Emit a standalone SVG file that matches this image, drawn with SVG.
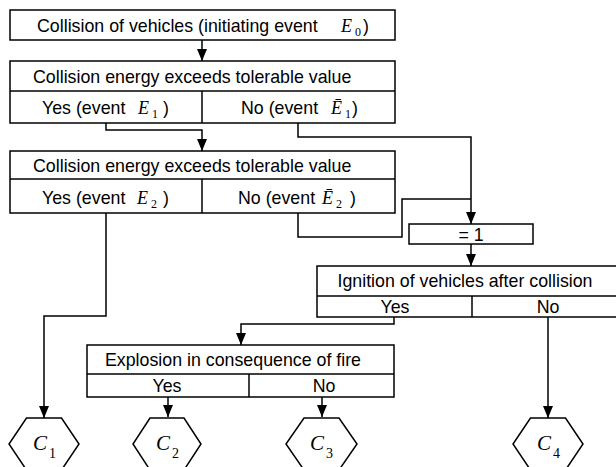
<svg xmlns="http://www.w3.org/2000/svg" width="616" height="467" viewBox="0 0 616 467">
<defs>
<style>
.box{fill:#fff;stroke:#000;stroke-width:1.5}
.ln{fill:none;stroke:#000;stroke-width:1.5}
.t{font-family:"Liberation Sans",Arial,sans-serif;font-size:17.8px;fill:#000}
.m{text-anchor:middle}
.e{font-family:"Liberation Serif","Times New Roman",serif;font-style:italic;font-size:18px;fill:#000}
.s{font-family:"Liberation Serif","Times New Roman",serif;font-size:12px;fill:#000}
.c{font-family:"Liberation Serif","Times New Roman",serif;font-style:italic;font-size:21px;fill:#000}
.cs{font-family:"Liberation Serif","Times New Roman",serif;font-size:14px;fill:#000}
.w{fill:none;stroke:#000;stroke-width:1.5}
</style>
<marker id="arr" markerUnits="userSpaceOnUse" markerWidth="12" markerHeight="10" refX="12" refY="5" orient="auto">
<path d="M0,0 L12,5 L0,10 z" fill="#000"/>
</marker>
</defs>
<rect width="616" height="467" fill="#fff"/>

<g id="connectors">
<path class="ln" d="M202,40 V61" marker-end="url(#arr)"/>
<path class="ln" d="M106,123 V130 H202 V151" marker-end="url(#arr)"/>
<path class="ln" d="M298,123 V137 H471 V224" marker-end="url(#arr)"/>
<path class="ln" d="M298,213 V237 H402 V199 H471"/>
<path class="ln" d="M471,244 V266" marker-end="url(#arr)"/>
<path class="ln" d="M106,213 V316 H44 V418" marker-end="url(#arr)"/>
<path class="ln" d="M394,317 V324 H241 V345" marker-end="url(#arr)"/>
<path class="ln" d="M548,317 V418" marker-end="url(#arr)"/>
<path class="ln" d="M168,397 V417" marker-end="url(#arr)"/>
<path class="ln" d="M322,397 V417" marker-end="url(#arr)"/>
</g>

<g id="initiating-event">
<rect class="box" x="10" y="10" width="385" height="30"/>
<text class="t" x="37" y="32">Collision of vehicles (initiating event</text>
<text class="e" x="341" y="32">E</text>
<text class="s" x="355" y="36">0</text>
<text class="t" x="363" y="32">)</text>
</g>

<g id="energy-1">
<rect class="box" x="10" y="61" width="385" height="62"/>
<line class="w" x1="10" y1="91" x2="395" y2="91"/>
<line class="w" x1="202" y1="91" x2="202" y2="123"/>
<text class="t" x="33" y="83">Collision energy exceeds tolerable value</text>
<text class="t" x="42" y="114">Yes (event</text>
<text class="e" x="138" y="114">E</text>
<text class="s" x="152" y="118">1</text>
<text class="t" x="163" y="114">)</text>
<text class="t" x="241" y="114">No (event</text>
<text class="e" x="331" y="114">Ē</text>
<text class="s" x="345" y="118">1</text>
<text class="t" x="352" y="114">)</text>
</g>

<g id="energy-2">
<rect class="box" x="10" y="151" width="385" height="62"/>
<line class="w" x1="10" y1="179" x2="395" y2="179"/>
<line class="w" x1="202" y1="179" x2="202" y2="213"/>
<text class="t" x="33" y="172">Collision energy exceeds tolerable value</text>
<text class="t" x="42" y="204">Yes (event</text>
<text class="e" x="137" y="204">E</text>
<text class="s" x="151" y="208">2</text>
<text class="t" x="163" y="204">)</text>
<text class="t" x="238" y="204">No (event</text>
<text class="e" x="322" y="204">Ē</text>
<text class="s" x="336" y="208">2</text>
<text class="t" x="350" y="204">)</text>
</g>

<g id="or-gate">
<rect class="box" x="409" y="224" width="124" height="20"/>
<text class="t m" x="471" y="241">= 1</text>
</g>

<g id="ignition">
<rect class="box" x="317" y="266" width="302" height="51"/>
<line class="w" x1="317" y1="296" x2="619" y2="296"/>
<line class="w" x1="472" y1="296" x2="472" y2="317"/>
<text class="t m" x="465" y="287">Ignition of vehicles after collision</text>
<text class="t m" x="395" y="313">Yes</text>
<text class="t m" x="548" y="313">No</text>
</g>

<g id="explosion">
<rect class="box" x="87" y="345" width="307" height="52"/>
<line class="w" x1="87" y1="374" x2="394" y2="374"/>
<line class="w" x1="249" y1="374" x2="249" y2="397"/>
<text class="t m" x="233" y="366">Explosion in consequence of fire</text>
<text class="t m" x="167" y="392">Yes</text>
<text class="t m" x="324" y="392">No</text>
</g>

<g id="C1">
<polygon class="w" points="26.5,418 61.5,418 79,444 61.5,470 26.5,470 9,444"/>
<text class="c" x="33" y="450">C</text>
<text class="cs" x="49" y="458">1</text>
</g>
<g id="C2">
<polygon class="w" points="150,418 184,418 201,444 184,470 150,470 133,444"/>
<text class="c" x="156" y="450">C</text>
<text class="cs" x="172" y="458">2</text>
</g>
<g id="C3">
<polygon class="w" points="304,418 339,418 357,444 339,470 304,470 286,444"/>
<text class="c" x="310" y="450">C</text>
<text class="cs" x="326" y="458">3</text>
</g>
<g id="C4">
<polygon class="w" points="530.5,418 565.5,418 583,444 565.5,470 530.5,470 513,444"/>
<text class="c" x="537" y="450">C</text>
<text class="cs" x="553" y="458">4</text>
</g>
</svg>
